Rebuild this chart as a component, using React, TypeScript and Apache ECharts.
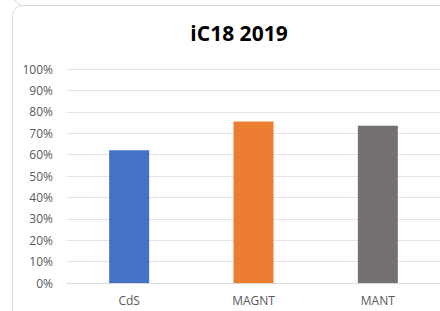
import React, { useEffect, useRef } from "react";
import * as echarts from "echarts";

const categories = ["CdS", "MAGNT", "MANT"];
const values = [0.62, 0.755, 0.735];
const barColors = ["#4472C4", "#ED7D31", "#767171"];
const titleText = "iC18 2019";

export default function App() {
  const ref = useRef<HTMLDivElement>(null);
  useEffect(() => {
    if (!ref.current) return;
    const chart = echarts.init(ref.current, null, { renderer: "svg" });
    chart.setOption({
      animation: false,
      backgroundColor: "#ffffff",
      title: {
        text: titleText,
        left: 234,
        textAlign: "center",
        top: 17,
        textStyle: {
          fontFamily: "Open Sans",
          fontWeight: "bold",
          fontSize: 21,
          color: "#000000",
        },
      },
      graphic: [
        {
          type: "rect",
          shape: { x: 12.5, y: 5.5, width: 450, height: 320, r: 10 },
          style: { fill: "none", stroke: "#d9d9d9", lineWidth: 1 },
          silent: true,
        },
        {
          type: "line",
          shape: { x1: 14, y1: 0, x2: 21, y2: 5.5 },
          style: { stroke: "#d9d9d9", lineWidth: 1 },
          silent: true,
        },
      ],
      grid: { left: 67, top: 69, width: 375, bottom: 28, containLabel: false },
      xAxis: {
        type: "category",
        data: categories,
        axisLine: { lineStyle: { color: "#d9d9d9" } },
        axisTick: { show: false },
        axisLabel: {
          color: "#595959",
          fontFamily: "Open Sans",
          fontSize: 12,
          margin: 11,
        },
      },
      yAxis: {
        type: "value",
        min: 0,
        max: 1,
        interval: 0.1,
        axisLine: { show: false },
        axisTick: { show: false },
        splitLine: { lineStyle: { color: "#e3e3e3" } },
        axisLabel: {
          color: "#595959",
          fontFamily: "Open Sans",
          fontSize: 12,
          margin: 14,
          formatter: (v: number) => Math.round(v * 100) + "%",
        },
      },
      series: [
        {
          type: "bar",
          barWidth: 40,
          data: values.map((v, i) => ({ value: v, itemStyle: { color: barColors[i] } })),
        },
      ],
    });
    return () => chart.dispose();
  }, []);
  return (
    <div
      ref={ref}
      style={{ position: "fixed", left: 0, top: 0, width: 440, height: 311 }}
    />
  );
}
